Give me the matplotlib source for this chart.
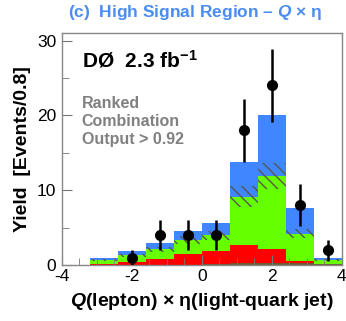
import numpy as np
import matplotlib.pyplot as plt

plt.rcParams['font.family'] = ['Liberation Sans', 'DejaVu Sans']
plt.rcParams['font.weight'] = 'bold'
plt.rcParams['mathtext.fontset'] = 'custom'
plt.rcParams['mathtext.it'] = 'Liberation Sans:bold:italic'
plt.rcParams['mathtext.rm'] = 'Liberation Sans:bold'
plt.rcParams['hatch.linewidth'] = 1.0

# bin edges (width 0.8) and stacked yields per component
edges = np.array([-3.2, -2.4, -1.6, -0.8, 0.0, 0.8, 1.6, 2.4, 3.2, 4.0])
brown = [0.05, 0.05, 0.05, 0.05, 0.1, 0.25, 0.3, 0.25, 0.15]
red = [0.15, 0.4, 0.75, 1.4, 1.8, 2.5, 1.8, 0.35, 0.05]
green = [0.47, 0.89, 1.3, 1.9, 2.1, 6.4, 9.8, 3.6, 0.47]
blue = [0.23, 0.53, 0.8, 1.2, 1.67, 4.6, 8.1, 3.4, 0.26]
data = [0, 1, 4, 4, 4, 18, 24, 8, 2]

fig = plt.figure(figsize=(3.46, 3.21), dpi=100)
ax = fig.add_axes([0.179, 0.174, 0.809, 0.723])

left = edges[:-1]
w = np.diff(edges)
bottom = np.zeros(len(left))
for vals, col in [(brown, '#6e5a2c'), (red, '#ff0000'), (green, '#66ff00'), (blue, '#3f86ff')]:
    ax.bar(left, vals, width=w, bottom=bottom, align='edge', color=col, lw=0)
    bottom = bottom + np.array(vals)

# systematic band around the green top
gtop = np.array(brown) + np.array(red) + np.array(green)
ax.bar(left, gtop * 0.3, width=w, bottom=gtop * 0.85, align='edge', fill=False,
       hatch='\\\\\\', edgecolor='#555555', lw=0)

cen = 0.5 * (edges[:-1] + edges[1:])
d = np.array(data, dtype=float)
m = d > 0
ax.errorbar(cen[m], d[m], yerr=np.sqrt(d[m]), fmt='o', color='black', ms=7,
            elinewidth=1.8, capsize=0, zorder=5)

ax.set_xlim(-4, 4)
ax.set_ylim(0, 31)
ax.set_xticks([-4, -2, 0, 2, 4])
ax.set_xticklabels(['-4', '-2', '0', '2', '4'])
ax.set_xticks(np.arange(-4, 4.01, 0.5), minor=True)
ax.set_yticks([0, 10, 20, 30])
ax.set_yticks([5, 15, 25], minor=True)
ax.tick_params(which='both', direction='in', color='#777777', labelsize=12.5)
ax.tick_params(axis='x', pad=3)
ax.tick_params(axis='y', pad=4)
ax.tick_params(which='major', length=7)
ax.tick_params(which='minor', length=5)
for lab in ax.get_xticklabels() + ax.get_yticklabels():
    lab.set_fontweight('normal')
for s in ax.spines.values():
    s.set_color('#888888')
    s.set_linewidth(1.0)

ax.set_ylabel('Yield  [Events/0.8]', fontsize=14, fontweight='bold', labelpad=4)
ax.set_xlabel(r'$Q$(lepton) × η(light-quark jet)', fontsize=14, fontweight='bold', labelpad=5)

fig.text(0.565, 0.962, r'(c)  High Signal Region – $Q$ × η', color='#4a8cf0',
         fontsize=12.5, fontweight='bold', ha='center', va='center')
ax.text(0.07, 0.93, r'DØ  2.3 fb$^{-1}$', transform=ax.transAxes, fontsize=15,
        fontweight='bold', va='top', ha='left')
ax.text(0.07, 0.73, 'Ranked\nCombination\nOutput > 0.92', transform=ax.transAxes,
        fontsize=11.5, fontweight='bold', color='#808080', va='top', ha='left',
        linespacing=1.25)

fig.savefig('out.png', dpi=100)
